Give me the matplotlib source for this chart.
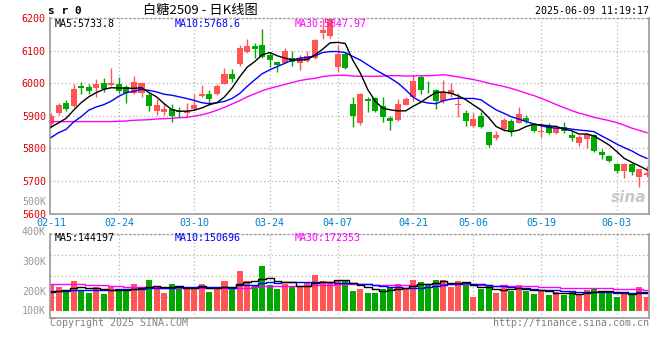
"""Sina-style daily K-line chart for 白糖2509 with MA lines and a volume panel."""

import matplotlib

matplotlib.use("Agg")
import matplotlib.pyplot as plt
from matplotlib.transforms import blended_transform_factory

# ---- data --------------------------------------------------------------------------
OPEN = [5876, 5909, 5939, 5929, 5991, 5988, 5985, 6002, 5993, 5996,
        5988, 5970, 5970, 5963, 5915, 5912, 5922, 5915, 5909, 5920,
        5960, 5966, 5966, 5996, 6029, 6059, 6095, 6114, 6118, 6087,
        6064, 6063, 6077, 6063, 6068, 6077, 6155, 6145, 6049, 6089,
        5937, 5878, 5952, 5954, 5931, 5892, 5886, 5934, 5957, 6020,
        5989, 5980, 5944, 5967, 5933, 5908, 5870, 5899, 5851, 5833,
        5858, 5884, 5879, 5894, 5872, 5850, 5869, 5848, 5866, 5841,
        5817, 5830, 5841, 5789, 5778, 5752, 5730, 5752, 5713, 5717]
HIGH = [5909, 5940, 5947, 5996, 6005, 5996, 6013, 6016, 6046, 6019,
        5993, 6021, 6003, 5971, 5950, 5939, 5937, 5927, 5939, 5966,
        5993, 5978, 5998, 6047, 6044, 6118, 6135, 6122, 6166, 6097,
        6066, 6109, 6100, 6087, 6100, 6135, 6199, 6202, 6117, 6097,
        5957, 5969, 5957, 5957, 5957, 5900, 5951, 5957, 6026, 6026,
        6008, 5982, 6010, 6000, 5969, 5918, 5908, 5913, 5851, 5854,
        5894, 5890, 5928, 5903, 5877, 5877, 5877, 5872, 5882, 5856,
        5841, 5846, 5844, 5798, 5780, 5756, 5756, 5754, 5738, 5746]
LOW = [5861, 5902, 5914, 5927, 5968, 5966, 5958, 5973, 5990, 5971,
       5939, 5968, 5958, 5915, 5902, 5902, 5881, 5897, 5895, 5917,
       5958, 5932, 5963, 5998, 6004, 6052, 6093, 6076, 6076, 6049,
       6033, 6061, 6053, 6041, 6066, 6075, 6135, 6140, 6033, 6044,
       5864, 5873, 5913, 5913, 5882, 5855, 5883, 5934, 5944, 5967,
       5969, 5920, 5938, 5959, 5895, 5870, 5864, 5862, 5805, 5826,
       5853, 5838, 5877, 5877, 5851, 5836, 5844, 5844, 5848, 5824,
       5807, 5802, 5789, 5766, 5759, 5725, 5710, 5717, 5682, 5713]
CLOSE = [5899, 5934, 5920, 5981, 5986, 5976, 5996, 5981, 6002, 5976,
         5971, 6003, 6000, 5930, 5934, 5920, 5900, 5910, 5915, 5934,
         5966, 5950, 5991, 6029, 6012, 6108, 6114, 6104, 6080, 6071,
         6056, 6100, 6064, 6077, 6082, 6131, 6163, 6196, 6089, 6046,
         5900, 5967, 5944, 5916, 5896, 5885, 5937, 5951, 6008, 5978,
         5987, 5944, 5974, 5979, 5937, 5885, 5890, 5867, 5810, 5841,
         5887, 5851, 5906, 5884, 5854, 5854, 5848, 5862, 5853, 5833,
         5834, 5844, 5792, 5781, 5761, 5730, 5751, 5728, 5736, 5725]

MA5 = [5865, 5878, 5892, 5917, 5940, 5958, 5971, 5981, 5986, 5985,
       5985, 5984, 5986, 5971, 5958, 5937, 5919, 5914, 5914, 5917,
       5924, 5934, 5940, 5958, 5985, 6019, 6049, 6066, 6087, 6094,
       6084, 6077, 6071, 6071, 6073, 6087, 6104, 6124, 6125, 6122,
       6071, 6031, 5980, 5944, 5923, 5918, 5915, 5915, 5929, 5941,
       5957, 5971, 5973, 5969, 5961, 5949, 5933, 5918, 5895, 5867,
       5856, 5851, 5856, 5867, 5874, 5872, 5869, 5867, 5859, 5854,
       5844, 5844, 5838, 5824, 5810, 5790, 5769, 5757, 5746, 5734]
MA10 = [5833, 5848, 5858, 5881, 5897, 5917, 5927, 5934, 5945, 5960,
        5971, 5975, 5981, 5978, 5973, 5966, 5963, 5958, 5953, 5947,
        5940, 5937, 5940, 5944, 5953, 5968, 5990, 6010, 6029, 6041,
        6051, 6061, 6071, 6077, 6079, 6084, 6094, 6097, 6097, 6094,
        6082, 6071, 6056, 6041, 6028, 6015, 6000, 5980, 5957, 5944,
        5939, 5937, 5946, 5951, 5954, 5953, 5953, 5949, 5933, 5918,
        5908, 5897, 5890, 5882, 5875, 5869, 5864, 5862, 5862, 5859,
        5856, 5854, 5851, 5838, 5826, 5813, 5802, 5792, 5779, 5769]
MA30 = [5882, 5882, 5882, 5882, 5882, 5882, 5882, 5882, 5882, 5883,
        5884, 5886, 5887, 5888, 5890, 5891, 5892, 5894, 5895, 5899,
        5903, 5909, 5917, 5926, 5936, 5946, 5958, 5967, 5977, 5984,
        5990, 5996, 6002, 6008, 6012, 6015, 6020, 6023, 6024, 6024,
        6022, 6021, 6021, 6021, 6022, 6023, 6023, 6022, 6022, 6023,
        6023, 6024, 6026, 6023, 6019, 6015, 6011, 6006, 6000, 5995,
        5990, 5984, 5977, 5969, 5962, 5953, 5944, 5934, 5925, 5916,
        5908, 5902, 5895, 5890, 5885, 5879, 5871, 5862, 5855, 5848]

VOLUME = [216, 192, 160, 240, 168, 144, 192, 136, 192, 160,
          176, 216, 176, 248, 192, 144, 216, 184, 192, 176,
          216, 152, 176, 240, 176, 320, 240, 208, 360, 208,
          176, 216, 200, 192, 232, 288, 240, 224, 240, 248,
          160, 176, 144, 144, 176, 192, 216, 176, 248, 232,
          208, 248, 248, 192, 240, 232, 112, 176, 208, 144,
          192, 160, 208, 160, 136, 160, 128, 152, 128, 152,
          136, 168, 184, 152, 144, 112, 152, 136, 192, 112]  # thousands
VOL_MA5 = [150, 163, 168, 181, 195, 181, 181, 176, 166, 165,
           171, 176, 184, 195, 202, 195, 195, 197, 186, 182,
           197, 184, 182, 192, 192, 213, 230, 237, 254, 262,
           238, 234, 232, 198, 203, 226, 230, 235, 245, 248,
           222, 210, 194, 174, 160, 166, 174, 181, 202, 213,
           216, 222, 237, 226, 227, 232, 205, 190, 194, 174,
           166, 176, 182, 173, 171, 165, 158, 147, 141, 144,
           139, 147, 154, 158, 157, 152, 149, 139, 147, 144]
VOL_MA10 = [160, 162, 164, 166, 168, 168, 169, 170, 171, 176,
            176, 178, 180, 181, 183, 183, 186, 190, 190, 192,
            196, 190, 190, 189, 187, 205, 207, 210, 226, 230,
            226, 232, 234, 230, 235, 232, 232, 234, 222, 226,
            224, 220, 214, 210, 204, 194, 192, 187, 188, 186,
            191, 198, 209, 214, 220, 224, 214, 214, 210, 201,
            199, 190, 186, 183, 173, 166, 167, 165, 157, 158,
            152, 153, 150, 150, 150, 146, 148, 146, 153, 151]
VOL_MA30 = [216, 216, 215, 215, 214, 209, 208, 207, 201, 200,
            191, 190, 190, 189, 189, 188, 188, 187, 187, 185,
            184, 183, 183, 182, 182, 186, 188, 190, 198, 200,
            199, 200, 201, 200, 202, 207, 208, 211, 213, 216,
            215, 214, 213, 209, 209, 210, 210, 210, 212, 214,
            214, 217, 219, 218, 220, 217, 213, 211, 206, 204,
            205, 203, 203, 202, 199, 195, 191, 189, 185, 182,
            181, 181, 182, 182, 181, 178, 176, 175, 173, 172]

DATE_IDX = [0, 9, 19, 29, 38, 48, 56, 65, 75]
DATE_LABELS = ["02-11", "02-24", "03-10", "03-24", "04-07",
               "04-21", "05-06", "05-19", "06-03"]
PRICE_TICKS = [5600, 5700, 5800, 5900, 6000, 6100, 6200]
VOL_TICKS = [200, 300, 400, 500]  # thousands
VOL_MIN_LABEL = "100K"

PRICE_MA_TEXT = ["MA5:5733.8", "MA10:5768.6", "MA30:5847.97"]
VOL_MA_TEXT = ["MA5:144197", "MA10:150696", "MA30:172353"]

# ---- style ----------------------------------------------------------------------
W, H = 660, 360
UP, DOWN = "#ff5555", "#00a800"
MA_COLORS = ["#000000", "#0000ff", "#ff00ff"]
FRAME = "#a0a0a0"
GRID = "#b4b4b4"
MONO = "DejaVu Sans Mono"
FS = 7.2


def _box(left, top, right, bottom):
    """Figure-fraction rect from pixel edges (y measured from the top)."""
    return [left / W, 1 - bottom / H, (right - left) / W, (bottom - top) / H]


def _frame(ax):
    for side in ("left", "right", "bottom"):
        ax.spines[side].set_color(FRAME)
        ax.spines[side].set_linewidth(1.3)
    ax.spines["top"].set_color(FRAME)
    ax.spines["top"].set_linestyle((0, (1, 2)))
    ax.spines["top"].set_linewidth(1.0)


def main():
    n = len(CLOSE)
    x = list(range(n))
    xlim = (-0.13, 79.27)
    colors = [UP if c >= o else DOWN for o, c in zip(OPEN, CLOSE)]

    fig = plt.figure(figsize=(W / 100, H / 100), dpi=100)

    # ---- price panel ----
    ax = fig.add_axes(_box(50, 18, 649, 213.5))
    ax.set_xlim(*xlim)
    ax.set_ylim(5600, 6200)
    for v in PRICE_TICKS[1:-1]:
        ax.axhline(v, color=GRID, lw=0.9, ls=(0, (1, 2)), zorder=0)
    for i in DATE_IDX[1:]:
        ax.axvline(i, color=GRID, lw=0.9, ls=(0, (1, 2)), zorder=0)

    ax.vlines(x, LOW, HIGH, colors=colors, lw=1.0, zorder=2)
    bottoms = [min(o, c) for o, c in zip(OPEN, CLOSE)]
    heights = [max(abs(c - o), 2.5) for o, c in zip(OPEN, CLOSE)]
    ax.bar(x, heights, bottom=bottoms, width=0.8, color=colors, lw=0, zorder=3)

    for ma, col in zip((MA30, MA10, MA5), MA_COLORS[::-1]):
        ax.plot(x, ma, color=col, lw=1.0, zorder=4)

    ax.set_yticks(PRICE_TICKS)
    ax.set_yticklabels([str(v) for v in PRICE_TICKS], color="#dd0000",
                       family=MONO, fontsize=FS)
    ax.set_xticks(DATE_IDX)
    ax.set_xticklabels(DATE_LABELS, color="#0080cc", family=MONO, fontsize=FS)
    ax.tick_params(length=0)
    ax.tick_params(axis="y", pad=3)
    ax.tick_params(axis="x", pad=3.5)
    _frame(ax)

    for txt, col, px in zip(PRICE_MA_TEXT, MA_COLORS, (55, 175, 295)):
        ax.text((px - 50) / 599, 0.968, txt, transform=ax.transAxes, color=col,
                family=MONO, fontsize=FS, va="center", zorder=6)

    ax.text(0.996, 0.045, "sina", transform=ax.transAxes, ha="right",
            va="bottom", fontsize=11, fontstyle="italic", fontweight="bold",
            color="#c8c8c8", zorder=1)

    # ---- volume panel ----
    vax = fig.add_axes(_box(50, 234, 649, 318))
    vax.set_xlim(*xlim)
    vax.set_ylim(-56, 616)
    for f in (0.25, 0.5, 0.75):
        vax.plot([0, 1], [f, f], transform=vax.transAxes, color=GRID, lw=0.9,
                 ls=(0, (1, 2)), zorder=0)
    for i in DATE_IDX[1:]:
        vax.axvline(i, color=GRID, lw=0.9, ls=(0, (1, 2)), zorder=0)
    vax.bar(x, VOLUME, width=0.8, color=colors, lw=0, zorder=2)
    for ma, col in zip((VOL_MA30, VOL_MA10, VOL_MA5), MA_COLORS[::-1]):
        vax.step(x, ma, where="mid", color=col, lw=1.0, zorder=3)
    vax.set_xticks([])
    vax.set_yticks([])
    _frame(vax)
    for txt, col, px in zip(VOL_MA_TEXT, MA_COLORS, (55, 175, 295)):
        vax.text((px - 50) / 599, 0.95, txt, transform=vax.transAxes, color=col,
                 family=MONO, fontsize=FS, va="center", zorder=6)
    tr = blended_transform_factory(vax.transAxes, vax.transData)
    vax.text(-0.0067, 0, VOL_MIN_LABEL, transform=tr, ha="right", va="center",
             color="#999999", family=MONO, fontsize=FS)

    # volume axis labels (Sina draws them on their own scale)
    lax = fig.add_axes(_box(50, 195, 649, 318), zorder=-1)
    lax.set_facecolor("none")
    lax.set_xlim(*xlim)
    lax.set_ylim(110, 520)
    lax.set_xticks([])
    lax.set_yticks(VOL_TICKS)
    lax.set_yticklabels([f"{v}K" for v in VOL_TICKS], color="#999999",
                        family=MONO, fontsize=FS)
    lax.tick_params(length=0, pad=3)
    for s in lax.spines.values():
        s.set_visible(False)

    # ---- header and footer ----
    fig.text(48 / W, 1 - 11.5 / H, "s r 0", family=MONO, fontweight="bold",
             fontsize=8, va="center")
    fig.text(200 / W, 1 - 10.5 / H, "白糖2509 - 日K线图",
             family=["Noto Sans CJK SC", "DejaVu Sans"], fontsize=9.5,
             ha="center", va="center")
    fig.text(649 / W, 1 - 11.5 / H, "2025-06-09 11:19:17", family=MONO,
             fontsize=FS, ha="right", va="center")
    fig.text(50 / W, 1 - 323 / H, "Copyright 2025 SINA.COM", family=MONO,
             fontsize=FS, color="#808080", va="center")
    fig.text(649 / W, 1 - 323 / H, "http://finance.sina.com.cn", family=MONO,
             fontsize=FS, color="#808080", ha="right", va="center")

    fig.savefig("out.png", dpi=100)
    plt.close(fig)


if __name__ == "__main__":
    main()
